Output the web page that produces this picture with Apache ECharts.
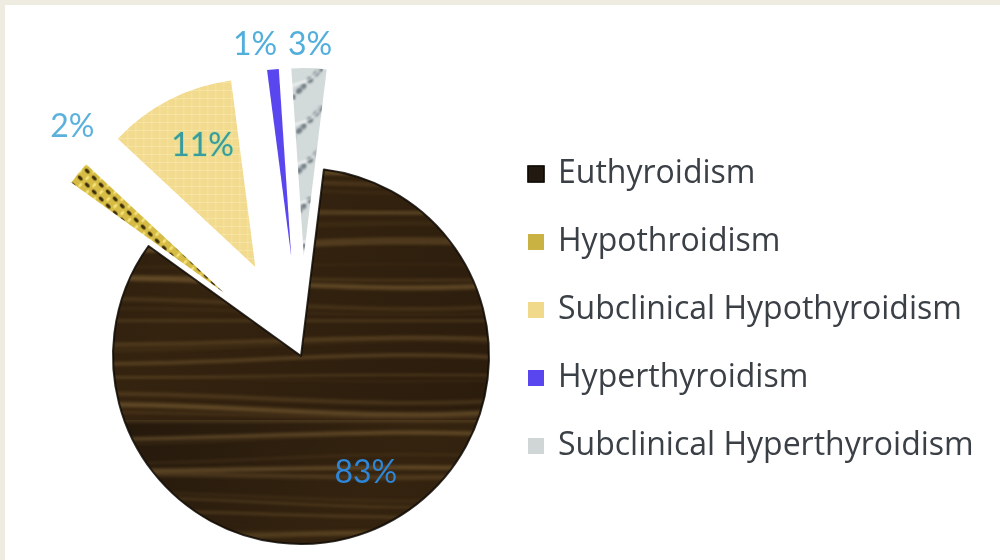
<!DOCTYPE html>
<html>
<head>
<meta charset="utf-8">
<script src="https://cdn.jsdelivr.net/npm/echarts@6/dist/echarts.min.js"></script>
<style>
  html, body { margin: 0; padding: 0; background: #eeebe1; }
  #panel { position: absolute; left: 5px; top: 5px; right: 0; bottom: 0; background: #ffffff; }
  #chart { position: absolute; left: 0; top: 0; width: 1000px; height: 560px; }
</style>
</head>
<body>
<div id="panel"></div>
<div id="chart"></div>
<script>
// Thyroid status distribution (percent of subjects)
const categories = [
  'Euthyroidism',
  'Hypothroidism',
  'Subclinical Hypothyroidism',
  'Hyperthyroidism',
  'Subclinical Hyperthyroidism'
];
const shares = [83, 2, 11, 1, 3];
const pulledOut = [false, true, true, true, true];

function makeCanvas(w, h) {
  const c = document.createElement('canvas');
  c.width = w; c.height = h;
  return c;
}

// Dark wood grain with pale streaks
function woodGrain() {
  const w = 520, h = 420;
  const c = makeCanvas(w, h);
  const g = c.getContext('2d');
  const base = g.createLinearGradient(0, 0, w, h);
  base.addColorStop(0, '#1f150b');
  base.addColorStop(0.5, '#34230f');
  base.addColorStop(1, '#2a1b0c');
  g.fillStyle = base;
  g.fillRect(0, 0, w, h);
  g.filter = 'blur(1.8px)';
  for (let i = 0; i < 36; i++) {
    const y = i * 12 + 5 * Math.sin(i * 2.3);
    const bend = 18 * Math.sin(i * 0.7);
    const a = 0.10 + 0.32 * (0.5 + 0.5 * Math.sin(i * 1.9));
    g.strokeStyle = 'rgba(158,124,70,' + a.toFixed(2) + ')';
    g.lineWidth = 1.5 + 3.5 * (0.5 + 0.5 * Math.cos(i * 1.3));
    g.beginPath();
    g.moveTo(-10, y);
    g.bezierCurveTo(w * 0.35, y + bend, w * 0.65, y - bend, w + 10, y);
    g.stroke();
  }
  return c;
}

// Yellow and dark braided weave
function braid() {
  const c = makeCanvas(14, 14);
  const g = c.getContext('2d');
  g.fillStyle = '#d6bc44';
  g.fillRect(0, 0, 14, 14);
  g.filter = 'blur(0.5px)';
  g.fillStyle = '#3a2d0c';
  g.beginPath(); g.ellipse(3.5, 3.5, 3, 1.6, Math.PI / 4, 0, Math.PI * 2); g.fill();
  g.beginPath(); g.ellipse(10.5, 10.5, 3, 1.6, Math.PI / 4, 0, Math.PI * 2); g.fill();
  g.fillStyle = '#f5e47c';
  g.beginPath(); g.ellipse(10.5, 3.5, 2.6, 1.4, -Math.PI / 4, 0, Math.PI * 2); g.fill();
  g.beginPath(); g.ellipse(3.5, 10.5, 2.6, 1.4, -Math.PI / 4, 0, Math.PI * 2); g.fill();
  return c;
}

// Pale canvas weave
function linen() {
  const c = makeCanvas(8, 8);
  const g = c.getContext('2d');
  g.fillStyle = '#f2da8e';
  g.fillRect(0, 0, 8, 8);
  g.fillStyle = 'rgba(255,246,205,0.35)';
  g.fillRect(0, 3, 8, 1);
  g.fillRect(5, 0, 1, 8);
  return c;
}

// Grey speckled marble
function marble() {
  const c = makeCanvas(40, 40);
  const g = c.getContext('2d');
  g.fillStyle = '#d3dada';
  g.fillRect(0, 0, 40, 40);
  g.filter = 'blur(0.9px)';
  for (let k = 0; k < 22; k++) {
    const x = (k * 17) % 40, y = (k * 23 + 7) % 40;
    g.fillStyle = k % 2 ? 'rgba(62,74,84,0.75)' : 'rgba(120,132,140,0.7)';
    g.beginPath();
    g.arc(x, y, 1.2 + (k % 3) * 0.8, 0, Math.PI * 2);
    g.fill();
  }
  g.strokeStyle = 'rgba(250,252,252,0.9)';
  g.lineWidth = 1.6;
  g.beginPath();
  g.moveTo(2, 34); g.bezierCurveTo(12, 16, 26, 30, 38, 6);
  g.stroke();
  return c;
}

const fills = [
  { image: woodGrain(), repeat: 'repeat' },
  { image: braid(), repeat: 'repeat' },
  { image: linen(), repeat: 'repeat' },
  '#5a46ee',
  { image: marble(), repeat: 'repeat' }
];
const legendColors = ['#221a11', '#c9b142', '#f1d98c', '#5a46ee', '#cfd6d5'];

// Per-slice label styling
const labelStyles = [
  { position: 'inside', color: '#2e86d9', offset: [26, 28] },
  { position: 'outside', color: '#5cb1dc', offset: [-53, -33] },
  { position: 'inside', color: '#3a9a9e', offset: [16, -28],
    textBorderColor: 'rgba(170,225,150,0.55)', textBorderWidth: 1.5 },
  { position: 'outside', color: '#52aedb', offset: [-2, -19] },
  { position: 'outside', color: '#52aedb', offset: [-21, -18] }
];

const pieData = categories.map((name, i) => ({
  name: name,
  value: shares[i],
  selected: pulledOut[i],
  itemStyle: Object.assign({ color: fills[i] },
    i === 0 ? { borderColor: 'rgba(14,9,4,0.85)', borderWidth: 2 } : {}),
  label: labelStyles[i],
  select: { label: labelStyles[i], itemStyle: { color: fills[i] } }
}));

const chart = echarts.init(document.getElementById('chart'), null, { renderer: 'canvas' });
chart.setOption({
  animation: false,
  legend: {
    orient: 'vertical',
    left: 527,
    top: 157,
    padding: 0,
    itemWidth: 16,
    itemHeight: 16,
    itemGap: 34,
    selectedMode: false,
    textStyle: {
      fontFamily: 'Open Sans',
      fontSize: 32,
      lineHeight: 34,
      color: '#3b4046',
      padding: [0, 0, 0, 9]
    },
    data: categories.map((name, i) => ({
      name: name,
      icon: 'rect',
      itemStyle: { color: legendColors[i] }
    }))
  },
  series: [{
    type: 'pie',
    center: [301, 356],
    radius: 188,
    startAngle: 83,
    clockwise: true,
    selectedMode: 'multiple',
    selectedOffset: 100,
    avoidLabelOverlap: false,
    labelLayout: { hideOverlap: false },
    emphasis: { disabled: true },
    label: {
      show: true,
      formatter: '{c}%',
      fontFamily: 'Lato',
      fontSize: 32
    },
    labelLine: { show: false, length: 8, length2: 0 },
    data: pieData
  }]
});
</script>
</body>
</html>
